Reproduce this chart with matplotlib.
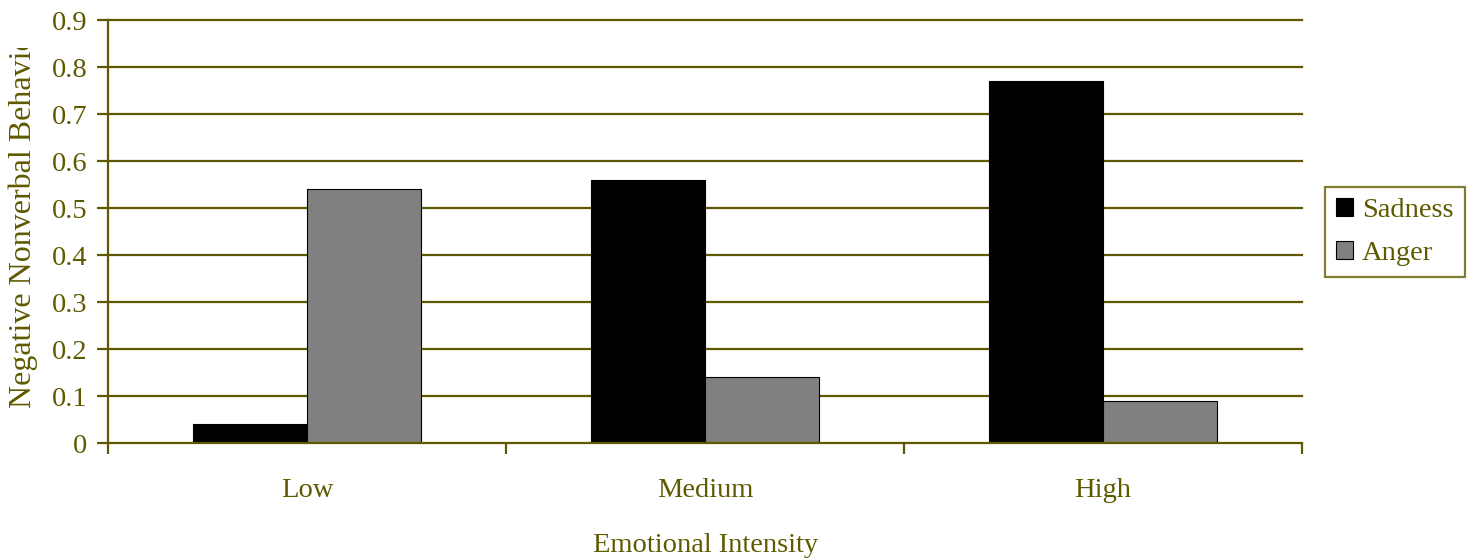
import numpy as np
import matplotlib.pyplot as plt
from matplotlib.patches import Rectangle

# ------------------------------
# data
# ------------------------------
categories = ["Low", "Medium", "High"]
sadness = [0.04, 0.56, 0.77]
anger = [0.54, 0.14, 0.09]
y_ticks = [0, 0.1, 0.2, 0.3, 0.4, 0.5, 0.6, 0.7, 0.8, 0.9]

OLIVE = "#5f5a00"
FS = 20.5

plt.rcParams["font.family"] = ["Liberation Serif", "DejaVu Serif"]

fig = plt.figure(figsize=(14.71, 5.59), dpi=100)
ax = fig.add_axes([0.0734, 0.2075, 0.8117, 0.7567])

x = np.arange(len(categories))
w = 0.2864
ax.bar(x - w / 2, sadness, w, color="black", edgecolor="black", linewidth=0.8,
       label="Sadness", zorder=3)
ax.bar(x + w / 2, anger, w, color="#808080", edgecolor="black", linewidth=0.8,
       label="Anger", zorder=3)

ax.set_xlim(-0.5, len(categories) - 0.5)
ax.set_ylim(0, 0.9)
ax.set_yticks(y_ticks)
ax.set_yticklabels([f"{t:g}" for t in y_ticks])

# gridlines
for t in y_ticks[1:]:
    ax.axhline(t, color=OLIVE, linewidth=1.6, zorder=1, clip_on=False)

# category ticks sit on the boundaries, labels centred under each group
ax.set_xticks(np.arange(len(categories) + 1) - 0.5)
ax.set_xticklabels([])
ax.set_xticks(x, minor=True)
ax.set_xticklabels(categories, minor=True)
ax.tick_params(axis="x", which="minor", length=0, pad=25)
ax.tick_params(axis="x", which="major", length=8, width=1.6, color=OLIVE)
ax.tick_params(axis="y", length=8, width=1.6, color=OLIVE, pad=7)
ax.tick_params(axis="both", which="both", labelsize=FS, labelcolor=OLIVE)

for side in ["top", "right"]:
    ax.spines[side].set_visible(False)
for side in ["left", "bottom"]:
    ax.spines[side].set_color(OLIVE)
    ax.spines[side].set_linewidth(1.6)
    ax.spines[side].set_zorder(4)

fig.text(0.4795, 1 - 545 / 559, "Emotional Intensity", ha="center", va="center",
         fontsize=FS, color=OLIVE)

# y label is cut off at the top
ylab = fig.text(0.0155, 1 - 408 / 559, "Negative Nonverbal Behavior",
                rotation=90, ha="center", va="bottom", fontsize=23, color=OLIVE)
clip = Rectangle((0, 0), 1, 1 - 48 / 559, transform=fig.transFigure,
                 facecolor="none", edgecolor="none")
ylab.set_clip_path(clip)

leg = fig.legend(loc="upper left", bbox_to_anchor=(1325 / 1471, 1 - 187 / 559),
                 fontsize=FS, frameon=True, fancybox=False,
                 handlelength=0.6, handleheight=0.6, handletextpad=0.3,
                 labelspacing=0.6, borderpad=0.4, borderaxespad=0)
leg.get_frame().set_edgecolor(OLIVE)
leg.get_frame().set_linewidth(1.6)
for txt in leg.get_texts():
    txt.set_color(OLIVE)

fig.savefig("out.png", dpi=100)
